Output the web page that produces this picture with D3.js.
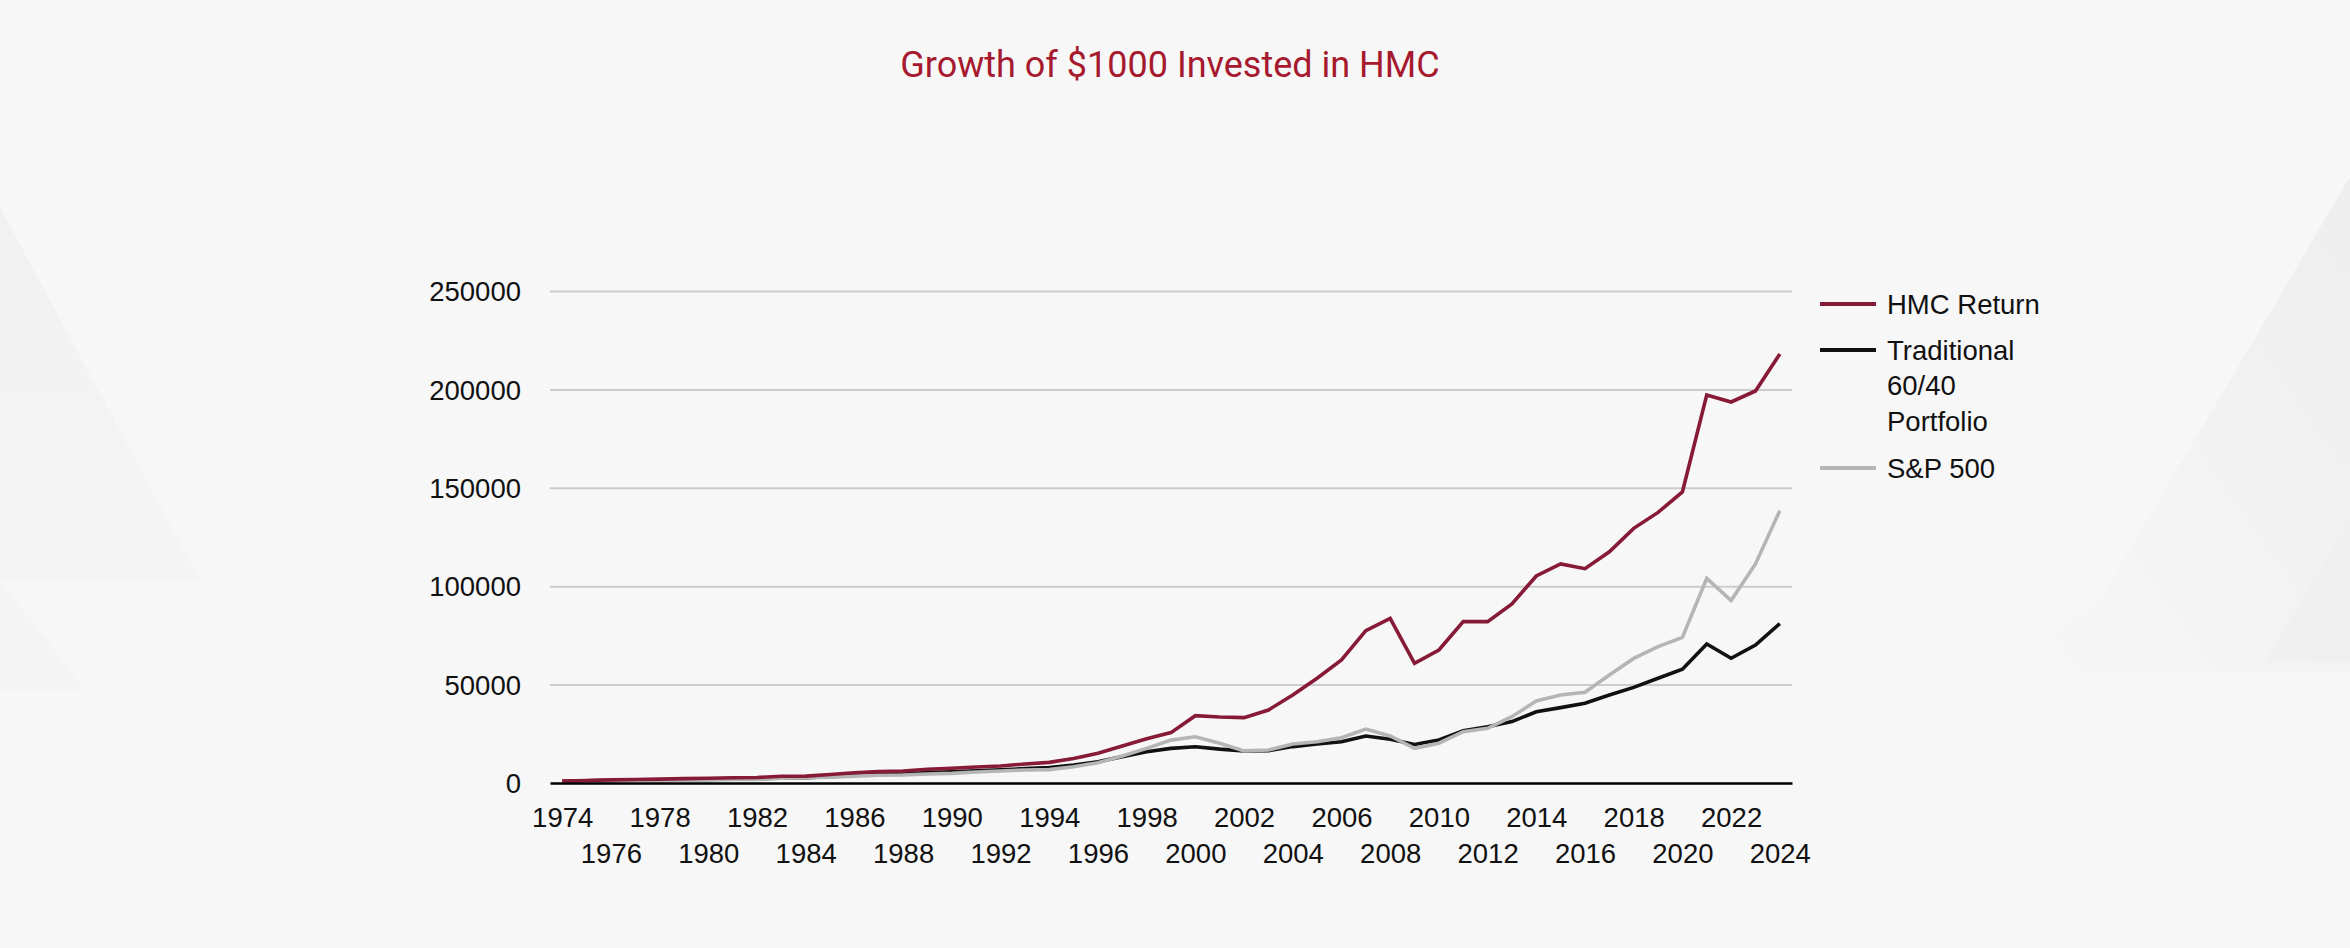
<!DOCTYPE html>
<html>
<head>
  <meta charset="utf-8">
  <style>
    html, body { margin: 0; padding: 0; background: #f7f7f7; }
    svg { display: block; }
    .tick text { font-family: "Liberation Sans", Arial, sans-serif; }
  </style>
  <script src="https://d3js.org/d3.v7.min.js"></script>
</head>
<body>
  <svg id="chart"></svg>
  <script>
    // years on the category axis
    var years = d3.range(1974, 2025)

    // growth of $1000
    var hmcReturn = [1000, 1300, 1600, 1800, 1950, 2200, 2400, 2650, 2800, 3400,
      3500, 4300, 5200, 5800, 6100, 6950, 7500, 8100, 8650, 9650,
      10500, 12400, 15100, 18800, 22500, 25600, 34200, 33500, 33200, 37100,
      44700, 53200, 62500, 77400, 83700, 60800, 67600, 82000, 82000, 91000,
      105200, 111300, 108900, 117500, 129400, 137500, 147900, 197200, 193600, 199200,
      218000]
    var traditional = [1000, 1150, 1350, 1450, 1500, 1650, 1850, 2000, 2150, 2600,
      2750, 3200, 3800, 4300, 4550, 5250, 5750, 6250, 6750, 7300,
      7800, 9150, 10800, 13400, 15900, 17600, 18400, 17200, 16300, 16400,
      18500, 19800, 21000, 23900, 22200, 19600, 21900, 26600, 28600, 31200,
      36200, 38300, 40500, 44700, 48600, 53200, 57800, 70600, 63400, 70100,
      81000]
    var sp500 = [1000, 1100, 1250, 1250, 1300, 1400, 1600, 1800, 1800, 2400,
      2700, 3000, 3500, 3900, 4050, 4600, 4900, 5600, 6100, 6600,
      6800, 8300, 10300, 13700, 17600, 21800, 23500, 20200, 16300, 16800,
      19800, 21000, 23000, 27400, 23900, 17600, 20200, 26100, 27800, 33700,
      41700, 44700, 46100, 54900, 63300, 69300, 74000, 104000, 92700, 111300,
      138400]

    var seriesNames = ["HMC Return", "Traditional 60/40 Portfolio", "S&P 500"]
    var legendLines = [["HMC Return"], ["Traditional", "60/40", "Portfolio"], ["S&P 500"]]
    var colors = ["#871a36", "#111111", "#b5b5b5"]
    var yTicks = [0, 50000, 100000, 150000, 200000, 250000]

    var w = 2350
    var h = 948
    var plotLeft = 550, plotRight = 1792, plotTop = 291, plotBottom = 783
    var font = "'Liberation Sans', Arial, sans-serif"
    var fontSize = "27.5px"

    var svg = d3.select("#chart")
      .attr("width", w)
      .attr("height", h)

    // faint background shapes
    var defs = svg.append("defs")
    var g1 = defs.append("linearGradient").attr("id", "fadeL")
      .attr("x1", 0).attr("y1", 0).attr("x2", 0).attr("y2", 1)
    g1.append("stop").attr("offset", "0%").attr("stop-color", "#f1f1f1")
    g1.append("stop").attr("offset", "100%").attr("stop-color", "#f4f4f4")
    var g2 = defs.append("linearGradient").attr("id", "fadeR")
      .attr("x1", 1).attr("y1", 0).attr("x2", 0).attr("y2", 1)
    g2.append("stop").attr("offset", "0%").attr("stop-color", "#eeeeee")
    g2.append("stop").attr("offset", "100%").attr("stop-color", "#f7f7f7")

    svg.append("path")
      .attr("d", "M0,207 L200,580 L0,580 Z")
      .attr("fill", "url(#fadeL)")
    svg.append("path")
      .attr("d", "M0,580 L85,690 L0,690 Z")
      .attr("fill", "#f4f4f4")
    svg.append("path")
      .attr("d", "M2350,177 L2100,600 L2000,672 L2350,672 Z")
      .attr("fill", "url(#fadeR)")
    svg.append("path")
      .attr("d", "M2350,518 L2265,662 L2350,662 Z")
      .attr("fill", "#f0f0f0")

    // title
    svg.append("text")
      .text("Growth of $1000 Invested in HMC")
      .attr("x", 1170)
      .attr("y", 77)
      .attr("text-anchor", "middle")
      .style("font-family", "Roboto, sans-serif")
      .style("font-size", "36px")
      .style("fill", "#a6192e")

    var xScale = d3.scalePoint()
      .domain(years)
      .range([plotLeft, plotRight])
      .padding(0.5)

    var yScale = d3.scaleLinear()
      .domain([0, 250000])
      .range([plotBottom, plotTop])

    // gridlines
    var grid = d3.axisLeft(yScale)
      .tickValues(yTicks.slice(1))
      .tickSize(-(plotRight - plotLeft))
      .tickFormat("")
    svg.append("g")
      .attr("transform", "translate(" + plotLeft + ",0)")
      .call(grid)
      .call(function(g) { g.select(".domain").remove() })
      .selectAll("line")
      .attr("stroke", "#cccccc")
      .attr("stroke-width", 2)

    // y labels
    var yAxis = d3.axisLeft(yScale)
      .tickValues(yTicks)
      .tickSize(0)
      .tickPadding(29)
      .tickFormat(d3.format("d"))
    svg.append("g")
      .attr("transform", "translate(" + plotLeft + ",0)")
      .call(yAxis)
      .call(function(g) { g.select(".domain").remove() })
      .selectAll("text")
      .style("font-size", fontSize)
      .style("fill", "#111")
      .attr("dy", "0.35em")

    // lines
    var line = d3.line()
      .x(function(d, i) { return xScale(years[i]) })
      .y(function(d) { return yScale(d) })

    var allSeries = [hmcReturn, traditional, sp500]
    var drawOrder = [1, 2, 0]
    drawOrder.forEach(function(k) {
      svg.append("path")
        .datum(allSeries[k])
        .attr("d", line)
        .attr("fill", "none")
        .attr("stroke", colors[k])
        .attr("stroke-width", 3.6)
        .attr("stroke-linejoin", "miter")
    })

    // x axis
    var xAxis = d3.axisBottom(xScale)
      .tickValues(years.filter(function(d) { return (d - 1974) % 2 == 0 }))
      .tickSize(0)
      .tickSizeOuter(0)
    var xg = svg.append("g")
      .attr("transform", "translate(0," + plotBottom + ")")
      .call(xAxis)
    xg.select(".domain")
      .attr("stroke", "#000")
      .attr("stroke-width", 2.5)
    xg.selectAll("text")
      .style("font-size", fontSize)
      .style("fill", "#111")
      .attr("y", function(d) { return ((d - 1974) % 4 == 0) ? 34 : 70 })
      .attr("dy", "0.35em")

    // legend
    var legendY = [304, 350, 468]
    legendLines.forEach(function(lines, i) {
      svg.append("line")
        .attr("x1", 1820)
        .attr("x2", 1876)
        .attr("y1", legendY[i])
        .attr("y2", legendY[i])
        .attr("stroke", colors[i])
        .attr("stroke-width", 4)
      var t = svg.append("text")
        .attr("x", 1887)
        .attr("y", legendY[i])
        .style("font-family", font)
        .style("font-size", fontSize)
        .style("fill", "#111")
      lines.forEach(function(s, j) {
        t.append("tspan")
          .attr("x", 1887)
          .attr("y", legendY[i] + j * 35.5)
          .attr("dy", "0.35em")
          .text(s)
      })
    })
  </script>
</body>
</html>
